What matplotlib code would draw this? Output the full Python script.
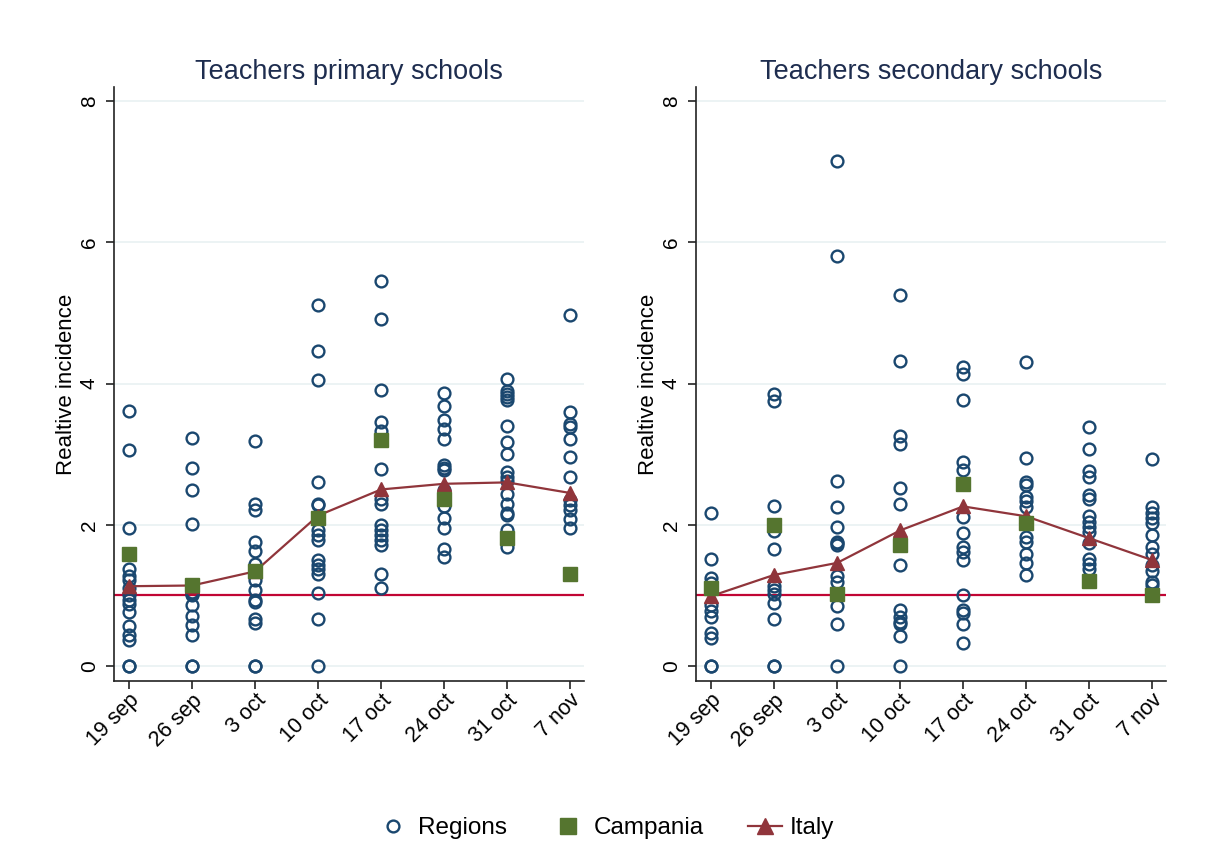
import numpy as np
import matplotlib.pyplot as plt
import matplotlib.transforms as mtransforms
from matplotlib.lines import Line2D

plt.rcParams['font.family'] = ['Liberation Sans', 'DejaVu Sans']

# Weeks on the x axis
weeks = ["19 sep", "26 sep", "3 oct", "10 oct", "17 oct", "24 oct", "31 oct", "7 nov"]

# ------------------ Primary schools ------------------
primary_regions = [
    [3.61, 3.06, 1.96, 1.37, 1.28, 1.22, 1.10, 1.00, 0.93, 0.88, 0.77, 0.57, 0.44, 0.37, 0.0, 0.0],
    [3.23, 2.81, 2.49, 2.01, 1.05, 1.02, 1.00, 0.86, 0.71, 0.58, 0.44, 0.0, 0.0],
    [3.18, 2.29, 2.21, 1.75, 1.63, 1.45, 1.22, 1.07, 0.94, 0.91, 0.67, 0.61, 0.0, 0.0],
    [5.11, 4.46, 4.05, 2.60, 2.30, 2.28, 1.93, 1.86, 1.79, 1.50, 1.43, 1.38, 1.31, 1.03, 0.67, 0.0],
    [5.45, 4.92, 3.91, 3.46, 3.33, 2.79, 2.37, 2.29, 2.00, 1.93, 1.86, 1.79, 1.72, 1.30, 1.11],
    [3.86, 3.68, 3.48, 3.35, 3.22, 2.85, 2.81, 2.78, 2.49, 2.27, 2.09, 1.96, 1.65, 1.54],
    [4.06, 3.90, 3.85, 3.81, 3.76, 3.40, 3.17, 3.00, 2.75, 2.68, 2.62, 2.44, 2.30, 2.17, 2.14, 1.92, 1.68],
    [4.97, 3.59, 3.42, 3.39, 3.21, 2.96, 2.67, 2.35, 2.28, 2.21, 2.08, 1.95],
]
primary_campania = [1.59, 1.15, 1.34, 2.10, 3.20, 2.37, 1.81, 1.31]
primary_italy = [1.13, 1.14, 1.34, 2.13, 2.50, 2.58, 2.60, 2.45]

# ------------------ Secondary schools ------------------
secondary_regions = [
    [2.16, 1.51, 1.24, 1.18, 0.87, 0.78, 0.70, 0.47, 0.40, 0.0, 0.0],
    [3.85, 3.75, 2.27, 1.91, 1.65, 1.14, 1.07, 1.02, 0.89, 0.66, 0.0, 0.0],
    [7.15, 5.80, 2.62, 2.25, 1.97, 1.76, 1.74, 1.71, 1.27, 1.19, 0.85, 0.60, 0.0],
    [5.26, 4.32, 3.25, 3.15, 2.52, 2.30, 1.43, 0.79, 0.70, 0.63, 0.59, 0.42, 0.0],
    [4.24, 4.13, 3.77, 2.89, 2.77, 2.11, 1.88, 1.69, 1.62, 1.50, 1.00, 0.80, 0.75, 0.59, 0.33],
    [4.30, 2.94, 2.61, 2.56, 2.40, 2.33, 2.25, 1.83, 1.76, 1.59, 1.46, 1.29],
    [3.38, 3.07, 2.76, 2.67, 2.42, 2.36, 2.12, 2.04, 1.97, 1.90, 1.74, 1.52, 1.45, 1.38],
    [2.93, 2.25, 2.16, 2.09, 2.02, 1.86, 1.68, 1.59, 1.43, 1.35, 1.19, 1.15],
]
secondary_campania = [1.10, 1.99, 1.02, 1.71, 2.58, 2.02, 1.20, 1.00]
secondary_italy = [0.99, 1.29, 1.46, 1.92, 2.26, 2.12, 1.81, 1.50]

titles = ["Teachers primary schools", "Teachers secondary schools"]
reference_level = 1.0

navy = "#1a476f"
green = "#55752f"
maroon = "#90353b"
red = "#c10534"
grid_col = "#eaf2f3"

fig = plt.figure(figsize=(12.08, 8.68), dpi=100)
W, H = 1208, 868
ax_left = fig.add_axes([114 / W, 1 - 681 / H, 470 / W, 594 / H])
ax_right = fig.add_axes([696 / W, 1 - 681 / H, 470 / W, 594 / H])

panels = [
    (ax_left, primary_regions, primary_campania, primary_italy, titles[0]),
    (ax_right, secondary_regions, secondary_campania, secondary_italy, titles[1]),
]

xpos = np.arange(len(weeks))
# nudge rotated tick labels a little to the left
shift = mtransforms.ScaledTranslation(-4 / 100, 0, fig.dpi_scale_trans)

for ax, regions, campania, italy, title in panels:
    for i, vals in enumerate(regions):
        ax.plot(np.full(len(vals), xpos[i]), vals, linestyle="none", marker="o",
                markersize=8.5, markerfacecolor="none", markeredgecolor=navy,
                markeredgewidth=1.7, zorder=3)
    ax.axhline(reference_level, color=red, linewidth=1.6, zorder=2)
    ax.plot(xpos, italy, color=maroon, linewidth=1.6, marker="^", markersize=10,
            markeredgecolor=maroon, zorder=4)
    ax.plot(xpos, campania, linestyle="none", marker="s", markersize=9.5,
            color=green, markeredgecolor=green, zorder=5)

    ax.set_xlim(-0.24, 7.22)
    ax.set_ylim(-0.212, 8.198)
    ax.set_yticks([0, 2, 4, 6, 8])
    ax.set_yticklabels(["0", "2", "4", "6", "8"], rotation=90, va="center", fontsize=15)
    ax.set_xticks(xpos)
    ax.set_xticklabels(weeks, rotation=45, ha="right", va="top",
                       rotation_mode="anchor", fontsize=15.5)
    for lab in ax.get_xticklabels():
        lab.set_transform(lab.get_transform() + shift)
    ax.tick_params(axis="both", length=6, width=1.2, color="#222222")
    ax.tick_params(axis="y", pad=5)
    ax.tick_params(axis="x", pad=0.5)
    for y in [0, 2, 4, 6, 8]:
        ax.axhline(y, color=grid_col, linewidth=1.3, zorder=0)
    ax.spines["top"].set_visible(False)
    ax.spines["right"].set_visible(False)
    ax.spines["left"].set_linewidth(1.2)
    ax.spines["bottom"].set_linewidth(1.2)
    ax.spines["left"].set_color("#222222")
    ax.spines["bottom"].set_color("#222222")
    ax.set_ylabel("Realtive incidence", fontsize=16, labelpad=2)
    ax.set_title(title, fontsize=19.5, color="#1e2d4f", pad=6)

handles = [
    Line2D([], [], linestyle="none", marker="o", markersize=8.5, markerfacecolor="none",
           markeredgecolor=navy, markeredgewidth=1.7),
    Line2D([], [], linestyle="none", marker="s", markersize=11, color=green),
    Line2D([], [], color=maroon, linewidth=1.6, marker="^", markersize=11),
]
fig.legend(handles, ["Regions", "Campania", "Italy"], loc="center",
           bbox_to_anchor=(0.501, 1 - 828 / H), ncol=3, frameon=False, fontsize=17.5,
           handlelength=1.4, columnspacing=1.8, handletextpad=0.35)

fig.savefig("out.png", dpi=100, facecolor="white")
